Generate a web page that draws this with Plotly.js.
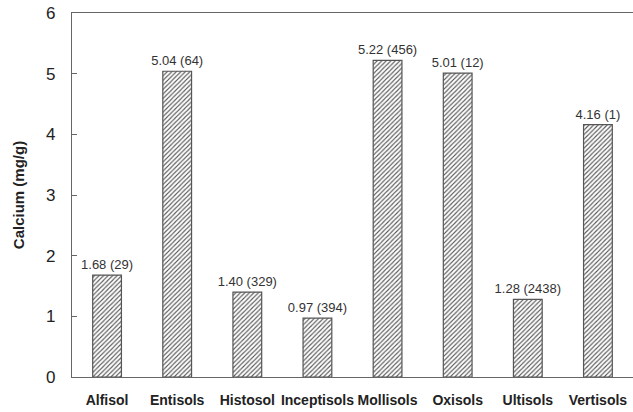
<!DOCTYPE html>
<html>
<head>
<meta charset="utf-8">
<script src="https://cdn.plot.ly/plotly-3.0.1.min.js"></script>
<style>html,body{margin:0;padding:0;background:#fff;}#chart{width:633px;height:412px;}</style>
</head>
<body>
<div id="chart"></div>
<script>
const soils = ["Alfisol", "Entisols", "Histosol", "Inceptisols", "Mollisols", "Oxisols", "Ultisols", "Vertisols"];
const calcium = [1.68, 5.04, 1.40, 0.97, 5.22, 5.01, 1.28, 4.16];
const counts = [29, 64, 329, 394, 456, 12, 2438, 1];
const yTicks = [0, 1, 2, 3, 4, 5, 6];

const labels = calcium.map((v, i) => v.toFixed(2) + " (" + counts[i] + ")");
const labelFont = {family: "Liberation Sans, Arial, sans-serif", size: 13, color: "#333"};

const trace = {
  type: "bar",
  x: soils,
  y: calcium,
  text: labels,
  textposition: "outside",
  constraintext: "none",
  cliponaxis: false,
  textfont: labelFont,
  outsidetextfont: labelFont,
  marker: {
    color: "#ffffff",
    line: {color: "#555", width: 1.2},
    pattern: {shape: "/", fgcolor: "#555", bgcolor: "#ffffff", size: 3.2, solidity: 0.35}
  },
  hoverinfo: "none"
};

const layout = {
  width: 633, height: 412,
  margin: {l: 72, r: 0, t: 13, b: 35},
  paper_bgcolor: "#fff", plot_bgcolor: "#fff",
  bargap: 0.59,
  showlegend: false,
  font: {family: "Liberation Sans, Arial, sans-serif", color: "#222"},
  xaxis: {
    showline: true, linecolor: "#666", linewidth: 1.2, mirror: true,
    ticks: "", showgrid: false, zeroline: false,
    tickfont: {size: 14, color: "#222", weight: "bold"},
    ticklabelstandoff: 10
  },
  yaxis: {
    range: [0, 6], tickvals: yTicks,
    showline: true, linecolor: "#666", linewidth: 1.2,
    ticks: "inside", ticklen: 5, tickcolor: "#666",
    showgrid: false, zeroline: false,
    tickfont: {size: 17, color: "#222"},
    ticklabelstandoff: 12,
    title: {text: "Calcium (mg/g)", font: {size: 15, color: "#222", weight: "bold"}, standoff: 17}
  }
};

Plotly.newPlot("chart", [trace], layout, {displayModeBar: false, staticPlot: true});
</script>
</body>
</html>
